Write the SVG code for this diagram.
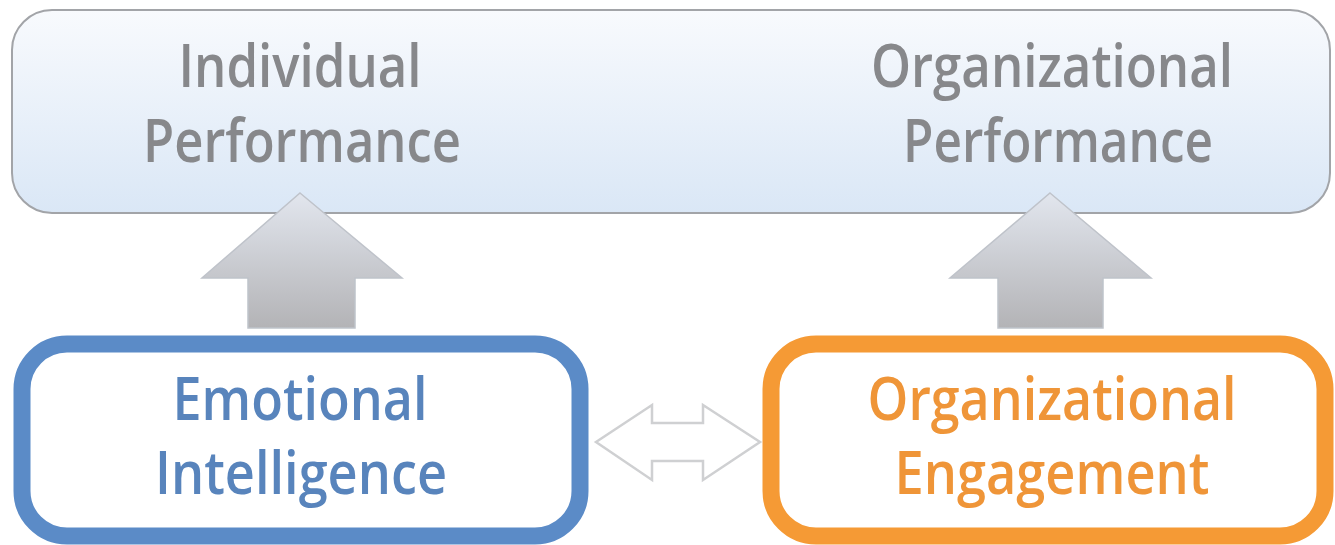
<svg xmlns="http://www.w3.org/2000/svg" width="1335" height="545" viewBox="0 0 1335 545">
  <defs>
    <linearGradient id="panelFill" x1="0" y1="0" x2="0" y2="1">
      <stop offset="0" stop-color="#f8fafd"/>
      <stop offset="1" stop-color="#dae7f6"/>
    </linearGradient>
    <linearGradient id="arrowFill" x1="0" y1="0" x2="0" y2="1">
      <stop offset="0" stop-color="#e2e6ee"/>
      <stop offset="1" stop-color="#b3b3b6"/>
    </linearGradient>
    <style>
      .label { font-family: "Open Sans", "Liberation Sans", sans-serif; font-weight: 600; font-size: 60px; text-anchor: middle; }
      .gray { fill: #87888b; }
      .blue { fill: #5884bc; }
      .orange { fill: #ef9538; }
      .up { fill: url(#arrowFill); stroke: #bfc3ca; stroke-width: 1.5; stroke-linejoin: miter; }
      .box { fill: #ffffff; stroke-width: 17; }
    </style>
  </defs>
  <rect width="1335" height="545" fill="#ffffff"/>

  <!-- outcomes panel -->
  <g id="performance">
    <rect x="12" y="10" width="1318" height="203" rx="40" ry="40" fill="url(#panelFill)" stroke="#a2a4a8" stroke-width="2"/>
    <text class="label gray" x="300" y="87" textLength="243" lengthAdjust="spacingAndGlyphs">Individual</text>
    <text class="label gray" x="302" y="162" textLength="318" lengthAdjust="spacingAndGlyphs">Performance</text>
    <text class="label gray" x="1052" y="87" textLength="362" lengthAdjust="spacingAndGlyphs">Organizational</text>
    <text class="label gray" x="1058" y="162" textLength="310" lengthAdjust="spacingAndGlyphs">Performance</text>
  </g>

  <g id="emotional-intelligence">
    <rect class="box" x="22" y="344" width="558" height="192" rx="45" ry="45" stroke="#5b8bc7"/>
    <text class="label blue" x="300" y="420" textLength="255" lengthAdjust="spacingAndGlyphs">Emotional</text>
    <text class="label blue" x="301" y="494" textLength="292" lengthAdjust="spacingAndGlyphs">Intelligence</text>
  </g>

  <g id="organizational-engagement">
    <rect class="box" x="771" y="344" width="554" height="192" rx="45" ry="45" stroke="#f59a35"/>
    <text class="label orange" x="1052" y="420" textLength="369" lengthAdjust="spacingAndGlyphs">Organizational</text>
    <text class="label orange" x="1052" y="494" textLength="315" lengthAdjust="spacingAndGlyphs">Engagement</text>
  </g>

  <!-- connectors -->
  <g id="connectors">
    <polygon class="up" points="300,193 402,278 355,278 355,328 248,328 248,278 202,278"/>
    <polygon class="up" points="1050,193 1151,278 1103,278 1103,328 998,328 998,278 950,278"/>
    <polygon points="596,442 652,405 652,423 703,423 703,405 760,442 703,480 703,461 652,461 652,480" fill="#ffffff" stroke="#cfd0d2" stroke-width="2.5" stroke-linejoin="miter"/>
  </g>
</svg>
